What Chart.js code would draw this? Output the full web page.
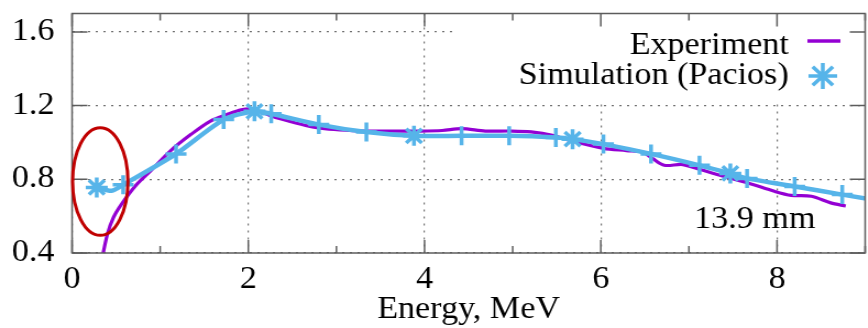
<!DOCTYPE html>
<html>
<head>
<meta charset="utf-8">
<script src="https://cdn.jsdelivr.net/npm/chart.js@4"></script>
<style>
html, body { margin: 0; padding: 0; overflow: hidden; background: #fff; }
/* the source figure is drawn a little wider than tall */
#wrap { transform: scaleX(1.1); transform-origin: 0 0; width: 800px; height: 328px; }
</style>
</head>
<body>
<div id="wrap"><canvas id="chart" width="800" height="328"></canvas></div>
<script>
// Experiment curve
const expEnergy = [0.34, 0.40, 0.47, 0.56, 0.73, 0.90, 1.12, 1.35, 1.57, 1.75, 1.92, 2.05, 2.33, 2.78, 3.27, 3.65, 3.94, 4.20, 4.42, 4.69, 4.99, 5.21, 5.45, 5.66, 6.03, 6.29, 6.48, 6.59, 6.72, 6.93, 7.15, 7.41, 7.68, 7.97, 8.16, 8.39, 8.61, 8.78];
const expValue  = [0.37, 0.50, 0.593, 0.664, 0.77, 0.85, 0.956, 1.044, 1.116, 1.15, 1.177, 1.18, 1.133, 1.08, 1.062, 1.062, 1.062, 1.065, 1.075, 1.062, 1.062, 1.057, 1.039, 1.009, 0.968, 0.956, 0.947, 0.912, 0.876, 0.88, 0.85, 0.814, 0.779, 0.735, 0.713, 0.708, 0.672, 0.655];

// Simulation (Pacios)
const simEnergy = [0.28, 0.45, 0.58, 1.18, 1.72, 2.07, 2.26, 2.80, 3.34, 3.88, 4.42, 4.96, 5.49, 5.68, 6.03, 6.57, 7.12, 7.47, 7.66, 8.20, 8.74, 9.28];
const simValue  = [0.756, 0.738, 0.77, 0.938, 1.124, 1.169, 1.156, 1.097, 1.057, 1.036, 1.036, 1.036, 1.027, 1.018, 0.991, 0.938, 0.876, 0.832, 0.805, 0.761, 0.717, 0.675];
const simMarker = ['star', '', 'cross', 'cross', 'cross', 'star', 'cross', 'cross', 'cross', 'star', 'cross', 'cross', 'cross', 'star', 'cross', 'cross', 'cross', 'star', 'cross', 'cross', 'cross', 'cross'];

// Axes
const xTicks = [0, 2, 4, 6, 8];
const xMinorTicks = [1, 3, 5, 7, 9];
const yTicks = [0.4, 0.8, 1.2, 1.6];

// Annotations
const curveLabel = '13.9 mm';
const labelPos = [7.06, 0.533];
const circleCenter = [0.32, 0.788];
const circleRadius = [0.314, 0.292];

const PURPLE = '#9400d3';
const BLUE = '#56b4e9';
const FONT = "'Liberation Serif', 'Times New Roman', serif";
const FONT_SIZE = 31;

function star(ctx, x, y, r) {
    ctx.beginPath();
    for (let i = 0; i < 4; i++) {
        const a = i * Math.PI / 4;
        ctx.moveTo(x - r * Math.cos(a), y - r * Math.sin(a));
        ctx.lineTo(x + r * Math.cos(a), y + r * Math.sin(a));
    }
    ctx.stroke();
}

const extras = {
    id: 'extras',
    beforeDatasetsDraw(chart) {
        // legend box hides the grid behind it
        const {ctx, chartArea: a} = chart;
        ctx.save();
        ctx.fillStyle = '#fff';
        ctx.fillRect(414, a.top + 1, a.right - 414, 100 - a.top);
        ctx.restore();
    },
    afterDatasetsDraw(chart) {
        const {ctx, chartArea: a, scales: {x, y}} = chart;
        ctx.save();

        // frame
        ctx.strokeStyle = '#5c5c5c';
        ctx.lineWidth = 1.5;
        ctx.strokeRect(a.left, a.top, a.right - a.left, a.bottom - a.top);

        // inward ticks
        ctx.beginPath();
        xTicks.concat(xMinorTicks).forEach(v => {
            const px = x.getPixelForValue(v);
            const len = xTicks.includes(v) ? 13 : 7;
            ctx.moveTo(px, a.bottom); ctx.lineTo(px, a.bottom - len);
            ctx.moveTo(px, a.top); ctx.lineTo(px, a.top + len);
        });
        yTicks.forEach(v => {
            const py = y.getPixelForValue(v);
            ctx.moveTo(a.left, py); ctx.lineTo(a.left + 14, py);
            ctx.moveTo(a.right, py); ctx.lineTo(a.right - 14, py);
        });
        ctx.stroke();

        // legend
        ctx.fillStyle = '#000';
        ctx.font = FONT_SIZE + 'px ' + FONT;
        ctx.textAlign = 'right';
        ctx.textBaseline = 'alphabetic';
        ctx.fillText('Experiment', 717, 54);
        ctx.fillText('Simulation (Pacios)', 717, 84);
        ctx.strokeStyle = PURPLE;
        ctx.lineWidth = 3.5;
        ctx.beginPath();
        ctx.moveTo(734, 41); ctx.lineTo(764, 41);
        ctx.stroke();
        ctx.strokeStyle = BLUE;
        ctx.lineWidth = 3.5;
        star(ctx, 748, 76, 13);

        // curve label
        ctx.textAlign = 'left';
        ctx.fillText(curveLabel, x.getPixelForValue(labelPos[0]), y.getPixelForValue(labelPos[1]));

        // red ellipse
        const cx = x.getPixelForValue(circleCenter[0]);
        const cy = y.getPixelForValue(circleCenter[1]);
        const rx = x.getPixelForValue(circleCenter[0] + circleRadius[0]) - cx;
        const ry = cy - y.getPixelForValue(circleCenter[1] + circleRadius[1]);
        ctx.strokeStyle = '#c00000';
        ctx.lineWidth = 3;
        ctx.beginPath();
        ctx.ellipse(cx, cy, rx, ry, 0, 0, Math.PI * 2);
        ctx.stroke();

        ctx.restore();
    }
};

function noPad(s) {
    s.paddingTop = 0; s.paddingBottom = 0;
    s.paddingLeft = 0; s.paddingRight = 0;
}

new Chart(document.getElementById('chart'), {
    type: 'line',
    data: {
        datasets: [{
            label: 'Simulation (Pacios)',
            data: simEnergy.map((e, i) => ({x: e, y: simValue[i]})),
            borderColor: BLUE,
            borderWidth: 4.5,
            tension: 0.25,
            pointStyle: simMarker.map(m => m || 'circle'),
            pointRadius: simMarker.map(m => m === 'star' ? 10 : m === 'cross' ? 9.5 : 0),
            pointBorderWidth: 3.5,
            pointBorderColor: BLUE,
            pointBackgroundColor: BLUE,
            order: 0
        }, {
            label: 'Experiment',
            data: expEnergy.map((e, i) => ({x: e, y: expValue[i]})),
            borderColor: PURPLE,
            borderWidth: 3.2,
            tension: 0.3,
            pointRadius: 0,
            order: 1
        }]
    },
    options: {
        responsive: false,
        animation: false,
        layout: { padding: { top: 10, right: 5, left: 0, bottom: 0 } },
        plugins: { legend: { display: false }, tooltip: { enabled: false } },
        scales: {
            x: {
                type: 'linear',
                min: 0,
                max: 9,
                afterFit: s => { s.height = 75; noPad(s); },
                afterBuildTicks: s => { s.ticks = xTicks.map(v => ({value: v})); },
                grid: { color: '#707070', lineWidth: 1.2, drawTicks: false },
                border: { display: false, dash: [2, 5] },
                ticks: { color: '#000', padding: 8, font: { family: FONT, size: FONT_SIZE } },
                title: {
                    display: true,
                    text: 'Energy, MeV',
                    color: '#000',
                    font: { family: FONT, size: FONT_SIZE },
                    padding: { top: 0, bottom: 0 }
                }
            },
            y: {
                min: 0.4,
                max: 1.7,
                afterFit: s => { s.width = 65.5; noPad(s); },
                afterBuildTicks: s => { s.ticks = yTicks.map(v => ({value: v})); },
                grid: { color: '#707070', lineWidth: 1.2, drawTicks: false },
                border: { display: false, dash: [2, 5] },
                ticks: { color: '#000', padding: 16, font: { family: FONT, size: FONT_SIZE }, callback: v => v.toFixed(1) }
            }
        }
    },
    plugins: [extras]
});
</script>
</body>
</html>
